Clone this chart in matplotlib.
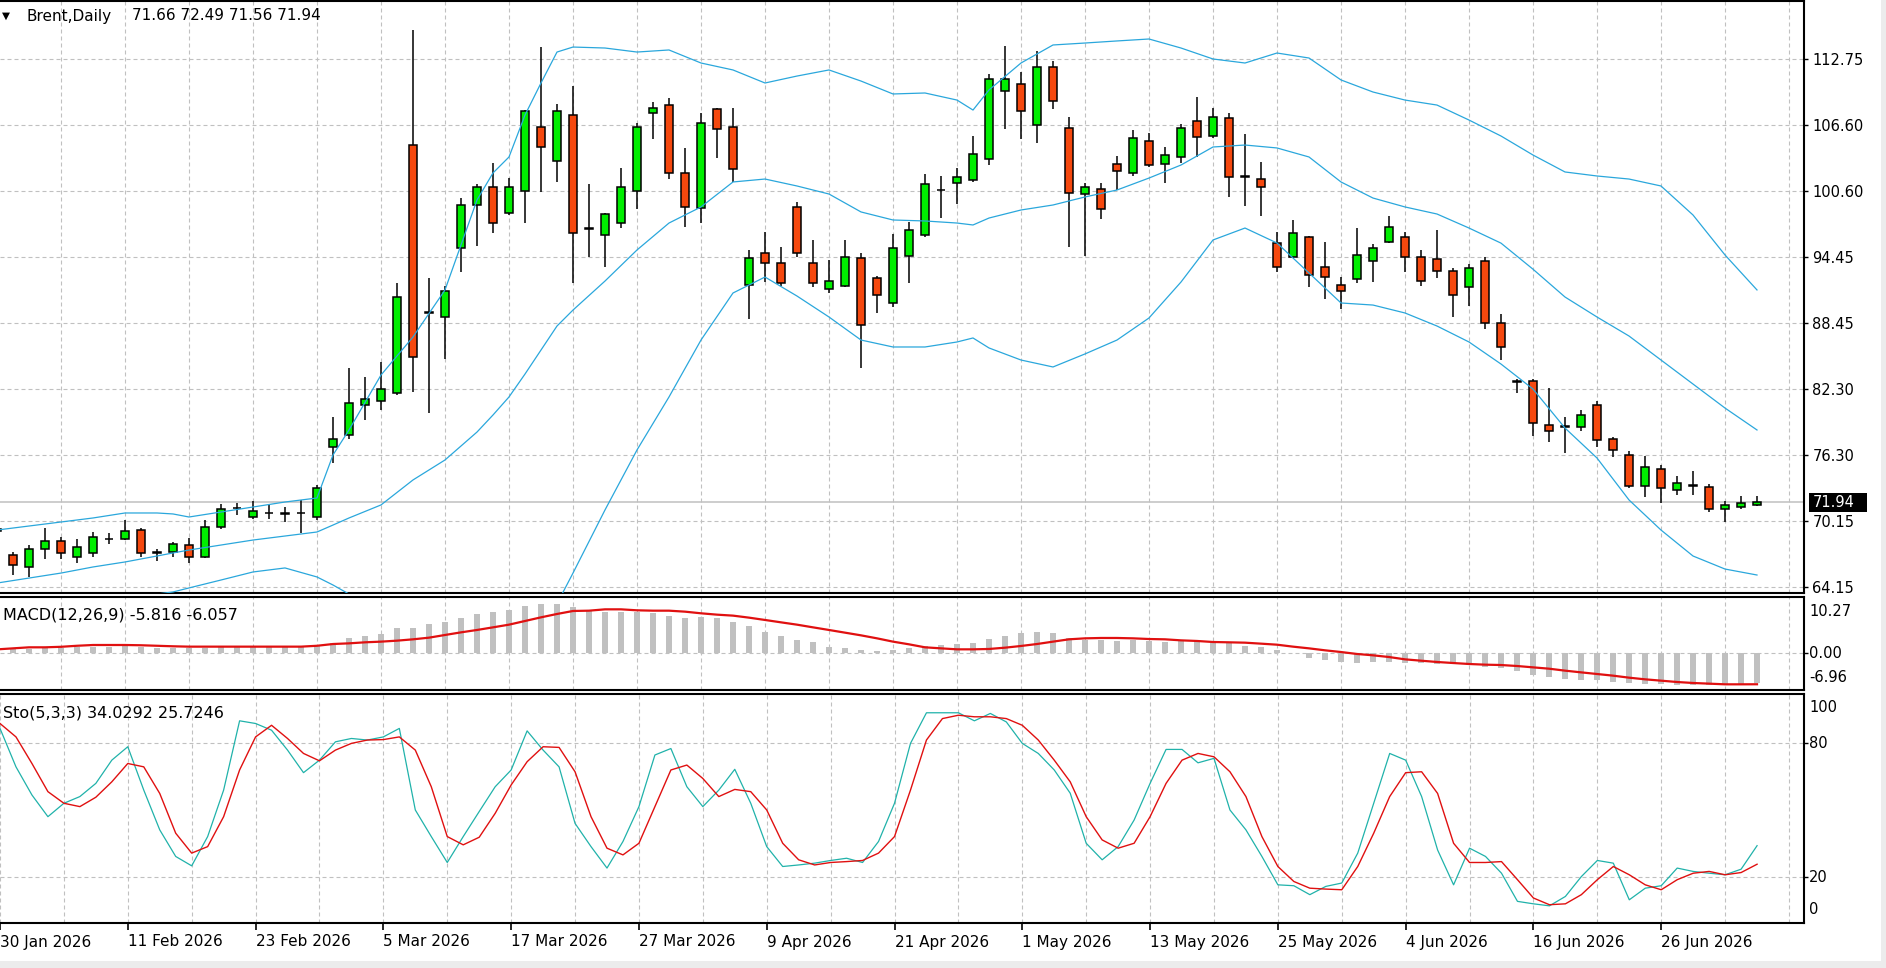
import matplotlib
matplotlib.use("Agg")
import matplotlib.pyplot as plt
import matplotlib.transforms as mtrans
from matplotlib.patches import Rectangle

W, H, DPI = 1886, 968, 100
PLOT_R = 1804  # right border of the panes, px

# ---------------- data (bar index 0 = 30 Jan 2026, business days) ----------------
DATE_TICKS = [0, 8, 16, 24, 32, 40, 48, 56, 64, 72, 80, 88, 96, 104]
DATE_LABELS = ["30 Jan 2026", "11 Feb 2026", "23 Feb 2026", "5 Mar 2026", "17 Mar 2026",
               "27 Mar 2026", "9 Apr 2026", "21 Apr 2026", "1 May 2026", "13 May 2026",
               "25 May 2026", "4 Jun 2026", "16 Jun 2026", "26 Jun 2026"]

OPEN = [69.3, 67.09, 65.99, 67.65, 68.38, 66.91, 67.28, 68.55, 68.57, 69.39,
        67.35, 67.37, 68.01, 66.91, 69.67, 71.42, 70.59, 70.95, 70.95, 70.95,
        70.59, 77.04, 78.14, 80.90, 81.27, 82.00, 104.83, 89.46, 89.00, 95.35,
        99.31, 100.97, 98.57, 100.60, 106.49, 103.36, 107.59, 97.20, 96.55, 97.65,
        100.60, 107.78, 108.51, 102.26, 99.03, 108.15, 106.49, 91.95, 94.89, 93.97,
        99.13, 93.97, 91.58, 91.85, 94.43, 92.59, 90.29, 94.61, 96.55, 100.70,
        101.33, 101.61, 103.54, 109.80, 110.45, 106.67, 112.01, 106.40, 100.32, 100.78,
        103.08, 102.26, 105.20, 103.08, 103.73, 107.04, 105.66, 107.32, 101.95, 101.70,
        95.81, 94.52, 96.39, 93.63, 91.95, 92.50, 94.18, 95.93, 96.34, 94.55,
        94.34, 93.26, 91.79, 94.18, 88.47, 83.10, 83.14, 79.06, 78.97, 78.90,
        80.90, 77.80, 76.30, 73.44, 74.98, 73.08, 73.50, 73.38, 71.30, 71.54, 71.66]
HIGH = [69.9, 67.37, 68.01, 69.58, 68.75, 68.57, 69.21, 69.12, 70.31, 69.58,
        67.65, 68.29, 68.66, 70.31, 71.79, 71.88, 72.06, 71.79, 71.51, 72.16,
        73.54, 79.80, 84.31, 83.48, 84.86, 92.13, 115.42, 92.59, 91.85, 99.95,
        101.24, 103.18, 101.79, 108.05, 113.85, 108.61, 110.26, 101.24, 98.57, 102.72,
        106.86, 108.79, 109.16, 104.56, 107.78, 108.24, 108.24, 95.17, 96.82, 95.44,
        99.59, 96.09, 94.25, 96.09, 94.89, 92.77, 96.64, 97.74, 102.16, 101.98,
        102.72, 105.66, 111.37, 113.95, 111.55, 113.49, 112.57, 107.41, 101.34, 101.34,
        103.82, 106.21, 105.94, 104.65, 106.77, 109.25, 108.24, 107.78, 105.85, 103.27,
        96.82, 97.93, 96.50, 95.88, 92.71, 97.16, 95.72, 98.30, 96.80, 95.17,
        97.01, 93.48, 93.85, 94.55, 89.25, 83.29, 83.30, 82.44, 79.82, 80.44,
        81.30, 77.98, 76.69, 76.21, 75.38, 74.36, 74.85, 73.63, 72.09, 72.52, 72.49]
LOW = [68.9, 65.25, 65.07, 66.72, 66.72, 66.36, 66.91, 68.10, 68.47, 66.91,
       66.54, 66.91, 66.36, 66.80, 69.50, 70.77, 70.40, 70.40, 70.13, 69.12,
       70.31, 75.56, 77.77, 79.52, 80.44, 81.82, 82.10, 80.16, 85.13, 93.14,
       95.54, 96.73, 98.39, 97.65, 100.51, 101.43, 92.13, 94.52, 93.60, 97.19,
       98.94, 105.39, 101.70, 97.28, 97.65, 103.64, 101.43, 88.82, 92.22, 91.85,
       94.52, 91.76, 91.21, 91.76, 84.31, 89.37, 89.92, 92.13, 96.40, 98.11,
       99.40, 101.43, 103.00, 106.31, 105.39, 105.02, 108.15, 95.44, 94.62, 98.02,
       100.69, 101.98, 102.80, 101.34, 103.18, 103.73, 105.48, 100.05, 99.22, 98.30,
       93.14, 94.43, 91.73, 90.66, 89.74, 92.10, 92.25, 95.78, 93.17, 91.88,
       92.62, 88.97, 90.04, 87.87, 85.04, 81.98, 78.07, 77.52, 76.45, 78.54,
       77.06, 76.14, 73.30, 72.40, 71.91, 72.62, 72.62, 71.08, 70.16, 71.30, 71.56]
CLOSE = [69.5, 66.17, 67.65, 68.38, 67.28, 67.83, 68.75, 68.60, 69.30, 67.28,
         67.25, 68.10, 66.91, 69.67, 71.33, 71.42, 71.14, 70.95, 70.90, 70.95,
         73.26, 77.77, 81.08, 81.45, 82.37, 90.84, 85.32, 89.40, 91.39, 99.31,
         100.97, 97.65, 100.97, 107.96, 104.65, 107.96, 96.73, 97.10, 98.48, 100.97,
         106.49, 108.24, 102.26, 99.13, 106.86, 106.31, 102.62, 94.43, 93.97, 92.13,
         94.89, 92.13, 92.31, 94.52, 88.26, 91.02, 95.35, 97.01, 101.24, 100.65,
         101.89, 104.00, 110.91, 110.91, 107.96, 112.01, 108.88, 100.41, 100.97, 98.94,
         102.44, 105.48, 103.00, 103.91, 106.40, 105.57, 107.41, 101.89, 101.90, 100.97,
         93.60, 96.73, 92.87, 92.71, 91.42, 94.71, 95.32, 97.31, 94.50, 92.34,
         93.26, 91.02, 93.48, 88.42, 86.27, 83.05, 79.21, 78.54, 78.90, 79.98,
         77.68, 76.76, 73.44, 75.22, 73.23, 73.69, 73.45, 71.30, 71.69, 71.91, 71.94]

# Bollinger bands, read at these bars
BB_IDX = [0, 2, 4, 6, 8, 10, 11, 12, 14, 16, 18, 20, 21, 22, 24, 26, 28, 30, 31, 32,
          33, 34, 35, 36, 38, 40, 42, 44, 46, 48, 50, 52, 54, 56, 58, 60, 61, 62, 64, 66,
          68, 70, 72, 74, 76, 78, 80, 82, 84, 86, 88, 90, 92, 94, 96, 98, 100, 102, 104, 106,
          108, 110]
BB_UPPER = [69.39, 69.76, 70.13, 70.50, 70.96, 70.96, 70.87, 70.59, 71.05, 71.51,
            71.97, 72.34, 76.3, 78.6, 83.66, 87.16, 91.49, 99.77, 102.26, 103.73,
            107.59, 110.54, 113.39, 113.85, 113.76, 113.39, 113.58, 112.38, 111.74, 110.54,
            111.18, 111.74, 110.72, 109.53, 109.62, 108.97, 108.05, 109.9, 112.38, 114.04,
            114.22, 114.41, 114.59, 113.76, 112.75, 112.38, 113.30, 112.84, 110.82, 109.71,
            108.97, 108.51, 107.13, 105.66, 103.91, 102.35, 101.98, 101.70, 101.06, 98.39,
            94.71, 91.49]
BB_MID = [64.51, 64.97, 65.43, 65.99, 66.45, 67.00, 67.28, 67.55, 68.01, 68.47,
          68.84, 69.21, 69.85, 70.5, 71.70, 74.0, 75.84, 78.41, 79.98, 81.64,
          83.75, 85.96, 88.17, 89.64, 92.31, 95.17, 97.65, 99.13, 101.43, 101.70,
          101.06, 100.32, 98.67, 97.93, 97.84, 97.65, 97.47, 98.11, 98.85, 99.31,
          100.05, 100.69, 101.79, 102.99, 104.65, 104.83, 104.56, 103.73, 101.43, 99.95,
          99.13, 98.48, 97.19, 95.8, 93.4, 90.84, 89.0, 87.25, 85.04, 82.83,
          80.62, 78.60]
BB_LOWER = [61.5, 62.0, 62.5, 63.0, 63.3, 63.5, 63.69, 64.06, 64.79, 65.53,
            65.90, 65.07, 64.33, 63.5, 61.8, 60.0, 58.5, 57.5, 57.3, 57.8,
            59.5, 61.0, 62.6, 65.43, 71.24, 76.76, 81.64, 86.88, 91.21, 92.68,
            90.93, 89.0, 86.88, 86.24, 86.24, 86.70, 87.07, 86.15, 85.04, 84.40,
            85.60, 86.88, 88.91, 92.22, 96.09, 97.19, 95.81, 93.05, 90.29, 90.10,
            89.37, 88.17, 86.70, 84.67, 82.37, 78.78, 76.02, 72.16, 69.39, 67.00,
            65.80, 65.25]

MACD_HIST = [0.8, 0.7, 0.8, 1.0, 1.0, 1.1, 1.2, 1.2, 1.3, 1.1,
             1.0, 1.0, 0.9, 1.0, 1.2, 1.3, 1.4, 1.4, 1.3, 1.3,
             1.5, 1.87, 2.84, 3.36, 3.68, 4.78, 4.78, 5.56, 5.94, 6.72,
             7.56, 7.88, 8.33, 9.17, 9.43, 9.50, 8.98, 8.33, 8.01, 7.88,
             7.88, 7.69, 7.24, 6.72, 7.04, 6.85, 5.94, 5.23, 4.13, 3.29,
             2.52, 2.20, 1.10, 0.90, 0.58, 0.39, 0.58, 1.0, 1.3, 1.5,
             1.7, 2.0, 2.71, 3.29, 3.81, 4.01, 3.94, 2.97, 2.52, 2.52,
             2.39, 2.52, 2.39, 2.20, 2.39, 2.20, 2.07, 1.87, 1.36, 1.10,
             0.58, 0.06, -1.03, -1.36, -1.68, -1.9, -1.68, -1.81, -2.0, -2.0,
             -2.13, -2.20, -2.33, -2.65, -2.97, -3.49, -4.26, -4.72, -5.10, -5.23,
             -5.23, -5.56, -5.88, -6.01, -6.07, -6.20, -6.20, -6.20, -6.15, -6.05, -5.816]
MACD_SIGNAL = [0.7, 0.9, 1.1, 1.1, 1.2, 1.4, 1.55, 1.55, 1.55, 1.5,
               1.4, 1.3, 1.23, 1.23, 1.23, 1.23, 1.23, 1.23, 1.23, 1.23,
               1.4, 1.74, 1.87, 2.07, 2.20, 2.39, 2.65, 2.97, 3.49, 4.0,
               4.46, 4.97, 5.49, 6.20, 6.91, 7.56, 8.14, 8.20, 8.46, 8.46,
               8.27, 8.20, 8.20, 8.01, 7.69, 7.43, 7.24, 6.85, 6.40, 5.94,
               5.49, 4.97, 4.46, 3.94, 3.42, 2.84, 2.20, 1.68, 1.10, 0.90,
               0.71, 0.71, 0.78, 1.03, 1.36, 1.74, 2.20, 2.65, 2.84, 2.91,
               2.91, 2.84, 2.71, 2.65, 2.45, 2.33, 2.13, 2.07, 2.0, 1.81,
               1.61, 1.23, 0.90, 0.52, 0.19, -0.19, -0.45, -0.78, -1.23, -1.49,
               -1.74, -1.94, -2.13, -2.26, -2.33, -2.52, -2.78, -3.04, -3.42, -3.75,
               -4.07, -4.39, -4.78, -5.10, -5.36, -5.62, -5.81, -5.94, -6.07, -6.07, -6.057]

STO_K = [86.5, 69.3, 56.7, 47.0, 53.0, 56.0, 61.9, 72.3, 78.3, 58.9,
         41.1, 29.2, 25.0, 38.1, 58.9, 89.9, 88.7, 85.7, 76.8, 66.7,
         72.3, 80.5, 82.0, 81.3, 82.7, 86.5, 50.0, 38.1, 26.5, 38.1,
         49.3, 60.4, 67.9, 85.4, 76.8, 69.3, 44.0, 33.6, 24.0, 35.9,
         51.5, 74.6, 77.5, 60.4, 51.5, 58.9, 68.2, 53.0, 33.6, 24.7,
         25.4, 26.2, 27.4, 28.4, 26.5, 35.9, 53.0, 79.8, 93.5, 93.5,
         93.5, 89.9, 93.2, 89.4, 79.8, 75.3, 67.9, 57.5, 35.1, 27.7,
         33.6, 45.5, 61.9, 77.1, 77.1, 71.1, 73.1, 50.0, 41.1, 29.2,
         16.5, 16.1, 12.1, 15.8, 17.3, 30.7, 53.0, 75.3, 72.3, 56.0,
         32.1, 16.5, 32.9, 29.2, 21.7, 9.1, 8.0, 7.1, 11.3, 20.2,
         27.4, 26.2, 9.8, 15.0, 16.1, 24.0, 22.5, 21.7, 21.0, 23.5, 34.0292]
STO_D = [88.7, 82.7, 70.8, 58.2, 53.0, 51.5, 55.7, 62.6, 70.8, 69.3,
         57.4, 39.6, 30.7, 33.6, 47.0, 67.9, 82.7, 87.9, 82.0, 75.3,
         72.0, 76.8, 79.8, 81.3, 81.5, 82.7, 76.8, 60.4, 38.1, 34.4,
         37.8, 48.5, 61.2, 71.6, 78.3, 78.0, 67.1, 47.0, 32.9, 29.9,
         35.1, 51.5, 67.9, 70.1, 64.1, 56.0, 59.2, 58.2, 50.0, 35.1,
         27.7, 25.4, 26.5, 26.9, 27.4, 30.7, 38.1, 58.9, 81.3, 90.9,
         92.4, 91.7, 91.7, 90.9, 87.9, 81.3, 72.3, 62.6, 47.0, 36.6,
         32.9, 35.1, 47.0, 61.9, 72.3, 75.3, 73.8, 67.1, 56.0, 38.1,
         24.7, 18.0, 15.0, 14.6, 14.3, 24.7, 39.6, 56.0, 66.7, 67.1,
         57.4, 35.1, 26.5, 26.5, 26.9, 18.8, 10.6, 7.6, 8.0, 12.1,
         18.8, 24.7, 21.0, 16.5, 14.3, 18.8, 21.7, 22.5, 21.0, 22.0, 25.7246]

PRICE_GRID = [112.75, 106.675, 100.60, 94.525, 88.45, 82.375, 76.30, 70.225, 64.15]
PRICE_LABELS = ["112.75", "106.60", "100.60", "94.45", "88.45", "82.30", "76.30", "70.15", "64.15"]
LAST_PRICE = 71.94

# ---------------- style ----------------
BULL = "#00ee00"
BEAR = "#f5480e"
BAND = "#2aa7dc"
RED = "#e01010"
TEAL = "#20b2aa"
GRIDC = "#c0c0c0"
GRID = dict(color=GRIDC, lw=0.8, ls=(0, (3.6, 2.7)), zorder=0)


def fx(px):
    return px / W


def fy(py):
    return 1 - py / H


fig = plt.figure(figsize=(W / DPI, H / DPI), dpi=DPI)
fig.patch.set_facecolor("white")


def pane(top, bottom):
    return fig.add_axes([0, 1 - bottom / H, PLOT_R / W, (bottom - top) / H])


ax_p = pane(1, 593)
ax_m = pane(597, 690)
ax_s = pane(694, 923)

for ax in (ax_p, ax_m, ax_s):
    ax.set_xlim(3 / 16, (PLOT_R + 3) / 16)
    for side in ("top", "right", "bottom"):
        ax.spines[side].set_linewidth(1.5)
        ax.spines[side].set_color("black")
    ax.spines["left"].set_visible(False)
    ax.set_xticks([])
    ax.tick_params(axis="y", left=False, labelleft=False, right=True, labelright=False,
                   length=3, width=1, color="black")
    for i in range(0, 113, 4):
        ax.axvline(i, **GRID)

# ---- price pane ----
ax_p.set_ylim(118.18 - 0.09205 * 593, 118.18 - 0.09205 * 1)
ax_p.set_yticks(PRICE_GRID)
ax_p.set_yticklabels(PRICE_LABELS)
ax_p.tick_params(axis="y", labelright=True, pad=3, labelsize=10.5)
for p in PRICE_GRID:
    ax_p.axhline(p, **GRID)
ax_p.axhline(LAST_PRICE, color=GRIDC, lw=1.1, zorder=1)

for i, (o, h, l, c) in enumerate(zip(OPEN, HIGH, LOW, CLOSE)):
    ax_p.vlines(i, l, h, color="black", lw=1.1, zorder=3)
    lo, hi = min(o, c), max(o, c)
    if hi - lo < 0.12:
        col = "black"
    else:
        col = BULL if c > o else BEAR
    ax_p.add_patch(Rectangle((i - 0.28, lo), 0.56, hi - lo, facecolor=col,
                             edgecolor="black", lw=1.1, zorder=3.5))

for band in (BB_UPPER, BB_MID, BB_LOWER):
    ax_p.plot(BB_IDX, band, color=BAND, lw=0.9, zorder=4)

# last price box
fig.add_artist(Rectangle((fx(1809), fy(512)), 58 / W, 19 / H, transform=fig.transFigure,
                         facecolor="black", edgecolor="none"))
fig.text(fx(1813), fy(502.5), f"{LAST_PRICE:.2f}", color="white", fontsize=10.5,
         va="center", ha="left")

# header
fig.text(fx(2), fy(16), "\u25bc", fontsize=7.5, va="center", ha="left")
fig.text(fx(26), fy(16), "Brent,Daily", fontsize=11, va="center", ha="left")
fig.text(fx(132), fy(16), f"{OPEN[-1]:.2f} {HIGH[-1]:.2f} {LOW[-1]:.2f} {CLOSE[-1]:.2f}",
         fontsize=11, va="center", ha="left")

# ---- MACD pane ----
xs = list(range(len(MACD_HIST)))
ax_m.set_ylim(-7.17, 10.85)
ax_m.set_yticks([0])
ax_m.axhline(0, **GRID)
ax_m.bar(xs, MACD_HIST, width=0.32, color=GRIDC, zorder=2)
ax_m.plot(xs, MACD_SIGNAL, color=RED, lw=1.6, zorder=3)
fig.text(fx(3), fy(615), f"MACD(12,26,9) {MACD_HIST[-1]:.3f} {MACD_SIGNAL[-1]:.3f}",
         fontsize=11.5, va="center", ha="left")
for txt, ypx in (("10.27", 611), ("0.00", 653), ("-6.96", 678)):
    fig.text(fx(1809), fy(ypx), txt, fontsize=10.5, va="center", ha="left")

# ---- Stochastic pane ----
ax_s.set_ylim(-0.58, 101.9)
ax_s.set_yticks([20, 80])
for v in (20, 80):
    ax_s.axhline(v, **GRID)
ax_s.plot(xs, STO_K, color=TEAL, lw=0.9, zorder=3)
ax_s.plot(xs, STO_D, color=RED, lw=1.0, zorder=3)
fig.text(fx(3), fy(713), f"Sto(5,3,3) {STO_K[-1]:.4f} {STO_D[-1]:.4f}",
         fontsize=11.5, va="center", ha="left")
for txt, ypx in (("100", 708), ("80", 743), ("20", 877), ("0", 909)):
    fig.text(fx(1809), fy(ypx), txt, fontsize=10.5, va="center", ha="left")

# date axis
ax_s.set_xticks(DATE_TICKS)
ax_s.set_xticklabels([""] * len(DATE_TICKS))
ax_s.tick_params(axis="x", bottom=True, direction="out", length=5, width=1.2, color="black")
tr = mtrans.blended_transform_factory(ax_s.transData, fig.transFigure)
for i, lab in zip(DATE_TICKS, DATE_LABELS):
    ax_s.text(i, fy(942), lab, transform=tr, fontsize=11, ha="left", va="center",
              clip_on=False)

# window frame edges
fig.add_artist(Rectangle((fx(1881), 0), 5 / W, 1, transform=fig.transFigure,
                         facecolor="#ececec", edgecolor="none"))
fig.add_artist(Rectangle((0, 0), 1, 7 / H, transform=fig.transFigure,
                         facecolor="#ececec", edgecolor="none"))

fig.savefig("out.png", dpi=DPI, facecolor="white")
